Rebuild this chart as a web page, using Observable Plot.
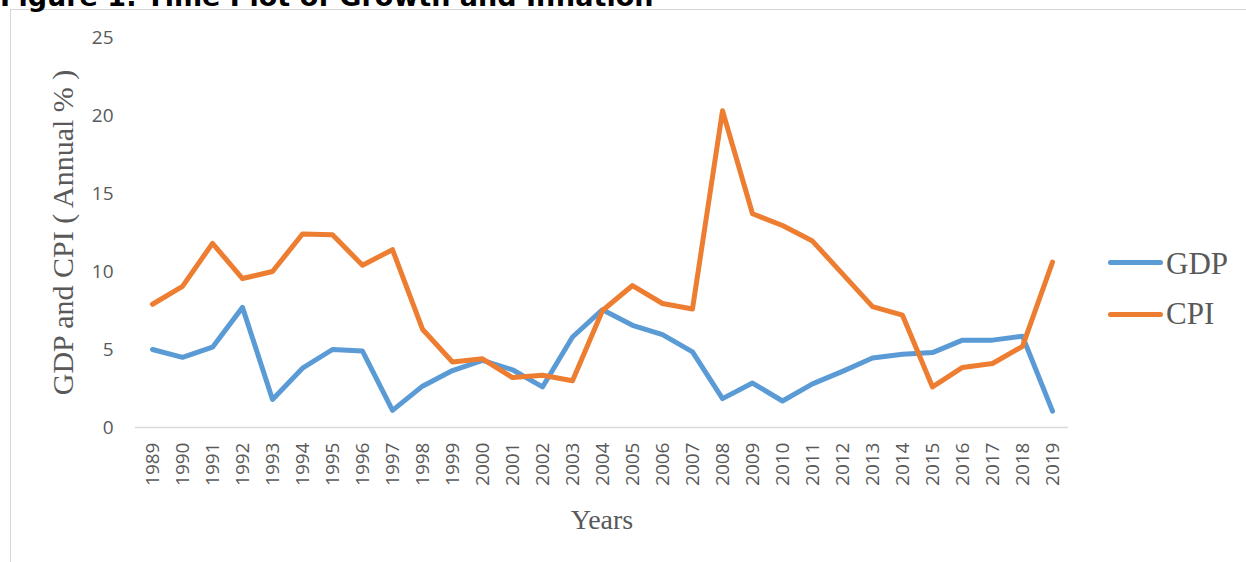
<!DOCTYPE html>
<html>
<head>
<meta charset="utf-8">
<script src="https://cdn.jsdelivr.net/npm/d3@7"></script>
<script src="https://cdn.jsdelivr.net/npm/@observablehq/plot@0.6"></script>
<style>
  html, body { margin: 0; padding: 0; background: #fff; overflow: hidden; }
  #wrap { position: relative; width: 1246px; height: 562px; }
  #frame { position: absolute; left: 10px; top: 9px; width: 1400px; height: 700px;
           border-left: 1.5px solid #d6d6d6; border-top: 1.5px solid #d6d6d6; }
  #title { position: absolute; left: 0px; top: -17px; font-family: "DejaVu Sans", sans-serif;
           font-weight: bold; font-size: 27px; line-height: 27px; color: #000; white-space: nowrap; }
  #chart { position: absolute; left: 0; top: 0; }
  .lg-line { position: absolute; width: 55px; height: 5px; border-radius: 3px; }
  .lg-text { position: absolute; font-family: "Liberation Serif", serif; font-size: 31px;
             line-height: 31px; color: #595959; white-space: nowrap; }
</style>
</head>
<body>
<div id="wrap">
  <div id="frame"></div>
  <div id="chart"></div>
  <div id="title">Figure 1: Time Plot of Growth and Inflation</div>
  <div id="legend"></div>
</div>
<script>
const years = ["1989","1990","1991","1992","1993","1994","1995","1996","1997","1998","1999","2000","2001","2002","2003","2004","2005","2006","2007","2008","2009","2010","2011","2012","2013","2014","2015","2016","2017","2018","2019"];
const gdp = [5.0, 4.5, 5.15, 7.7, 1.8, 3.8, 5.0, 4.9, 1.1, 2.65, 3.65, 4.3, 3.7, 2.6, 5.8, 7.55, 6.55, 5.95, 4.85, 1.85, 2.85, 1.7, 2.8, 3.6, 4.45, 4.7, 4.8, 5.6, 5.6, 5.85, 1.05];
const cpi = [7.9, 9.05, 11.8, 9.55, 10.0, 12.4, 12.35, 10.4, 11.4, 6.3, 4.2, 4.4, 3.2, 3.35, 3.0, 7.5, 9.1, 7.95, 7.6, 20.3, 13.7, 12.95, 11.95, 9.85, 7.75, 7.2, 2.6, 3.85, 4.1, 5.2, 10.6];
const yTicks = [0, 5, 10, 15, 20, 25];
const seriesNames = ["GDP", "CPI"];
const seriesColors = ["#5B9BD5", "#ED7D31"];

const rows = years.map((yr, i) => ({year: yr, gdp: gdp[i], cpi: cpi[i]}));

const chart = Plot.plot({
  width: 1246,
  height: 562,
  marginLeft: 135,
  marginRight: 178,
  marginTop: 37,
  marginBottom: 135,
  style: {background: "none", fontFamily: "'Open Sans', sans-serif", color: "#595959"},
  x: {type: "point", domain: years, padding: 0.5},
  y: {domain: [0, 25]},
  marks: [
    Plot.ruleY([0], {stroke: "#d9d9d9", strokeWidth: 1.5}),
    Plot.axisY({ticks: yTicks, tickSize: 0, tickPadding: 22, fontSize: 19, fill: "#595959", label: null}),
    Plot.axisX({tickSize: 0, tickRotate: -90, tickPadding: 15, fontSize: 19, fill: "#595959", label: null}),
    Plot.line(rows, {x: "year", y: "gdp", stroke: seriesColors[0], strokeWidth: 5, strokeLinecap: "round", strokeLinejoin: "round"}),
    Plot.line(rows, {x: "year", y: "cpi", stroke: seriesColors[1], strokeWidth: 5, strokeLinecap: "round", strokeLinejoin: "round"}),
    Plot.text(["Years"], {frameAnchor: "bottom", lineAnchor: "bottom", dy: 101, fontFamily: "'Liberation Serif', serif", fontSize: 28, fill: "#595959"}),
    Plot.text(["GDP and CPI ( Annual % )"], {frameAnchor: "left", textAnchor: "middle", lineAnchor: "bottom", rotate: -90, dx: -63, fontFamily: "'Liberation Serif', serif", fontSize: 30, fill: "#595959"})
  ]
});
document.getElementById("chart").appendChild(chart);

const legend = document.getElementById("legend");
const lgTops = [262, 314];
const txtTops = [248, 298];
seriesNames.forEach((name, i) => {
  const line = document.createElement("div");
  line.className = "lg-line";
  line.style.left = "1108px";
  line.style.top = (lgTops[i] - 2.5) + "px";
  line.style.background = seriesColors[i];
  legend.appendChild(line);
  const t = document.createElement("div");
  t.className = "lg-text";
  t.style.left = "1166px";
  t.style.top = txtTops[i] + "px";
  t.textContent = name;
  legend.appendChild(t);
});
</script>
</body>
</html>
